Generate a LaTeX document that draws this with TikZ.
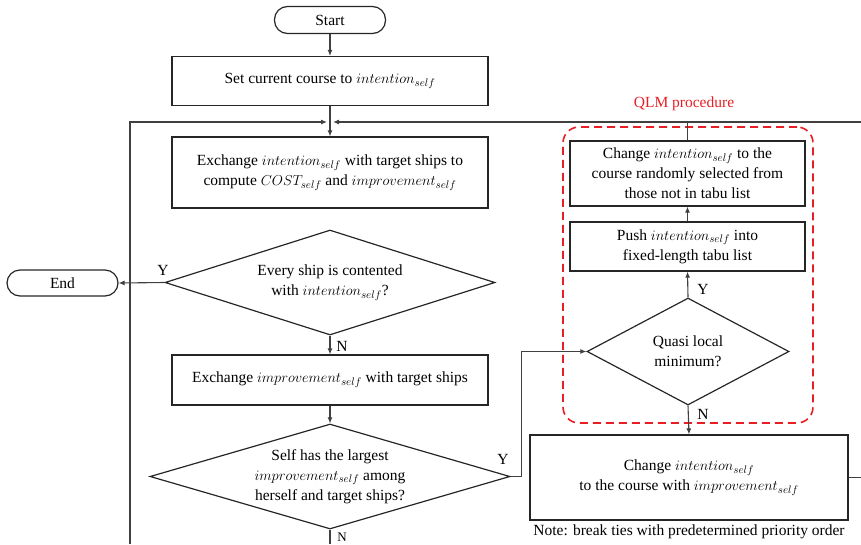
\documentclass[tikz,border=0pt]{standalone}
\usepackage{fontspec}
\setmainfont{Liberation Serif}
\usetikzlibrary{shapes.geometric,arrows.meta}
\newcommand{\intself}{$intention_{self}$}
\newcommand{\impself}{$improvement_{self}$}
\newcommand{\costself}{$COST_{self}$}
\definecolor{qlmred}{RGB}{232,30,36}
\begin{document}
\begin{tikzpicture}[x=1pt,y=-1pt,
  font=\fontsize{15.5}{20}\selectfont,
  box/.style={draw=black!85,line width=1.2pt,align=center,inner sep=2pt},
  term/.style={draw=black!85,line width=1.2pt,rounded corners=13pt},
  dia/.style={draw=black!85,line width=1.2pt,diamond,inner sep=0pt},
  conn/.style={draw=black!75,line width=1.1pt},
  arr/.style={conn,-{Latex[length=6pt,width=5pt]}},
  lbl/.style={inner sep=1pt}]
\useasboundingbox (0,0) rectangle (861,544);
% main column
\node[term,minimum width=111,minimum height=27] (start) at (330,20) {Start};
\node[box,minimum width=316,minimum height=49] (set) at (330,81) {Set current course to \intself};
\node[box,minimum width=316,minimum height=71] (exch) at (330,172.5) {Exchange \intself{} with target ships to\\compute \costself{} and \impself};
\node[dia,minimum width=330,minimum height=105,
  label={[align=center]center:Every ship is contented\\with \intself?}] (d1) at (330,282.5) {};
\node[term,minimum width=111,minimum height=26] (end) at (62.5,283) {End};
\node[box,minimum width=316,minimum height=50] (imp) at (330,380) {Exchange \impself{} with target ships};
\node[dia,minimum width=360,minimum height=105,
  label={[align=center]center:Self has the largest\\\impself{} among\\herself and target ships?}] (d2) at (330,476.5) {};
% QLM
\node[draw=qlmred,line width=1.6pt,dash pattern=on 8pt off 5pt,rounded corners=16pt,
  minimum width=250,minimum height=296] (qlmbox) at (688,275) {};
\node[text=qlmred] (qlm) at (684,104) {QLM procedure};
\node[box,minimum width=235,minimum height=65] (chg) at (687.5,173.5) {Change \intself{} to the\\course randomly selected from\\those not in tabu list};
\node[box,minimum width=235,minimum height=49] (push) at (687.5,246.5) {Push \intself{} into\\fixed-length tabu list};
\node[dia,minimum width=202,minimum height=107,
  label={[align=center]center:Quasi local\\minimum?}] (q) at (688,351.5) {};
\node[box,minimum width=318,minimum height=85] (big) at (689,477.5) {Change \intself\\to the course with \impself};
\node (note) at (689,532) {Note: break ties with predetermined priority order};
% coordinates
\coordinate (lb) at (130,544);
\coordinate (lt) at (130,122);
\coordinate (ml) at (327,122);
\coordinate (mr) at (333,122);
\coordinate (rr) at (861,122);
\coordinate (bot) at (330,544);
\coordinate (re) at (861,477.5);
% connectors
\draw[arr] (start) -- (set);
\draw[arr] (set) -- (exch);
\draw[arr] (lb) -- (lt) -- (ml);
\draw[arr] (rr) -- (mr);
\draw[conn] (chg.north) -- (chg.north |- rr);
\draw[arr] (d1.west) -- (end.east);
\node[lbl] (y1) at (163,270) {Y};
\draw[arr] (d1.south) -- (imp.north);
\node[lbl] (n1) at (342,346) {N};
\draw[arr] (imp) -- (d2);
\draw[conn] (d2.south) -- (bot);
\node[lbl,font=\fontsize{13}{15}\selectfont] (n2) at (342,537) {N};
\draw[arr] (d2.east) -- ([xshift=11pt]d2.east) |- (q.west);
\node[lbl] (y2) at (503,459) {Y};
\draw[arr] (q.north) -- (push.south);
\node[lbl] (y3) at (703,289) {Y};
\draw[arr] (push) -- (chg);
\draw[arr] (q.south) -- (big.north);
\node[lbl] (n3) at (703,414) {N};
\draw[conn] (big.east) -- (re);
\end{tikzpicture}
\end{document}
